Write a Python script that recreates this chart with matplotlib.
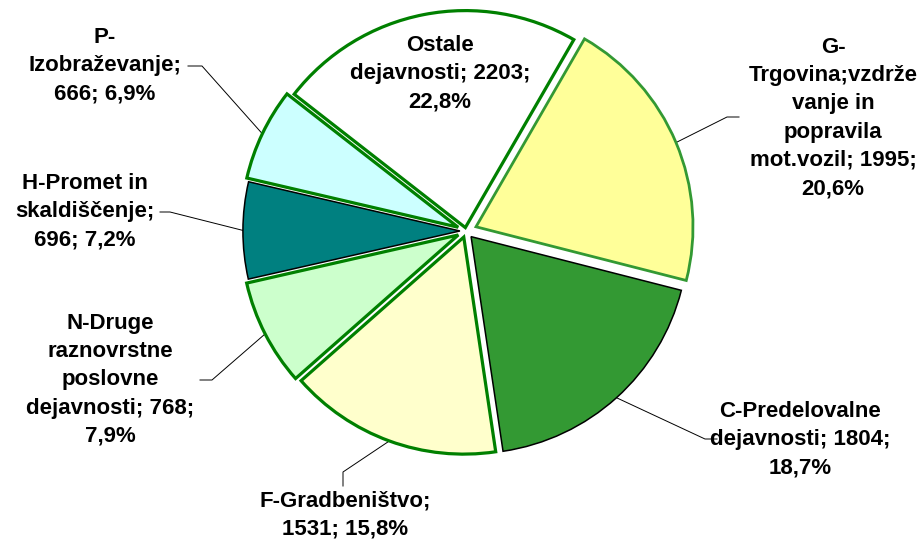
import numpy as np
import matplotlib
matplotlib.use("Agg")
import matplotlib.pyplot as plt

# data, in drawing order (clockwise from the G slice)
categories = [
    "G-\nTrgovina;vzdrže\nvanje in\npopravila\nmot.vozil",
    "C-Predelovalne\ndejavnosti",
    "F-Gradbeništvo",
    "N-Druge\nraznovrstne\nposlovne\ndejavnosti",
    "H-Promet in\nskaldiščenje",
    "P-\nIzobraževanje",
    "Ostale\ndejavnosti",
]
values = [1995, 1804, 1531, 768, 696, 666, 2203]

# how Excel wrapped each label: separator after name, separator after value
label_breaks = [
    (" ", "\n"),
    (" ", "\n"),
    ("\n", " "),
    (" ", "\n"),
    ("\n", " "),
    ("\n", " "),
    (" ", "\n"),
]

face_colors = ["#FFFF99", "#339933", "#FFFFCC", "#CCFFCC", "#008080", "#CCFFFF", "#FFFFFF"]
edge_colors = ["#339933", "#000000", "#008000", "#008000", "#000000", "#008000", "#008000"]
edge_widths = [2.0, 1.1, 2.3, 2.3, 1.1, 2.3, 2.3]
explode = [0.05, 0.035, 0.03, 0.04, 0.028, 0.04, 0.016]

W, H = 924, 544
CX, CY, R = 466, 231, 217

# label centre, leader elbow, leader end (image pixels, y down)
label_pos = [(833, 118), (800, 440), (345, 515), (110, 380), (85, 212), (105, 66), (440, 74)]
leaders = [
    ((727, 117), (739, 117)),
    ((705, 439), (717, 439)),
    ((343, 472), (343, 486)),
    ((212, 380), (200, 380)),
    ((170, 212), (160, 212)),
    ((202, 66), (188, 66)),
    None,
]

total = sum(values)


def fmt_label(name, val, brk):
    pct = f"{val / total * 100:.1f}".replace(".", ",")
    return f"{name};{brk[0]}{val};{brk[1]}{pct}%"


fig = plt.figure(figsize=(W / 100, H / 100), dpi=100)
ax = fig.add_axes([0, 0, 1, 1])

# matplotlib's explode is in data units, so scale by the radius
wedges, _ = ax.pie(
    values,
    colors=face_colors,
    explode=[e * R for e in explode],
    startangle=60,
    counterclock=False,
    radius=R,
    center=(CX, H - CY),
)
for w, ec, lw in zip(wedges, edge_colors, edge_widths):
    w.set_edgecolor(ec)
    w.set_linewidth(lw)
    w.set_joinstyle("miter")

for i, w in enumerate(wedges):
    x, y = label_pos[i]
    ax.text(x, H - y, fmt_label(categories[i], values[i], label_breaks[i]),
            ha="center", va="center", multialignment="center",
            fontsize=16, fontweight="bold", family="Liberation Sans",
            linespacing=1.45, color="black")
    if leaders[i] is None:
        continue
    mid = np.deg2rad((w.theta1 + w.theta2) / 2)
    ax_pt = (w.center[0] + w.r * np.cos(mid), w.center[1] + w.r * np.sin(mid))
    (ex, ey), (tx, ty) = leaders[i]
    ax.plot([ax_pt[0], ex, tx], [ax_pt[1], H - ey, H - ty], color="black", lw=0.7,
            zorder=0.5)

ax.set_xlim(0, W)
ax.set_ylim(0, H)
ax.set_aspect("equal")
ax.axis("off")

fig.savefig("out.png", dpi=100)
